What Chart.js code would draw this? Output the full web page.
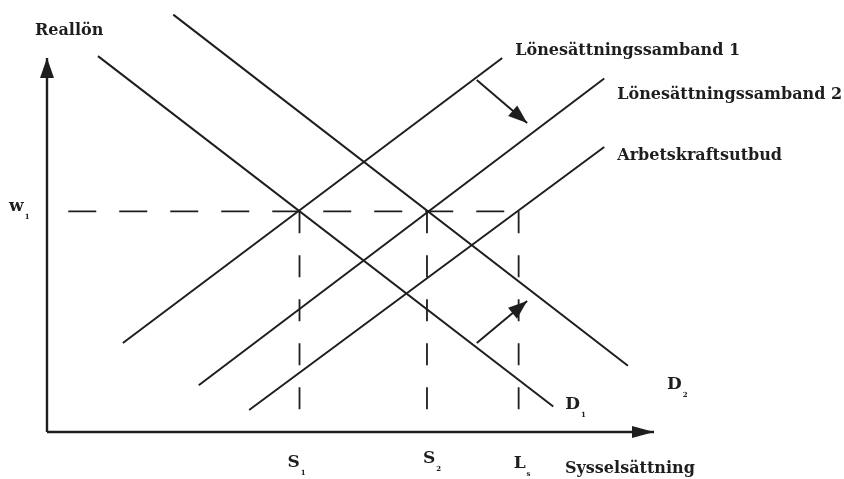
<!DOCTYPE html>
<html>
<head>
<meta charset="utf-8">
<script src="https://cdn.jsdelivr.net/npm/chart.js@4.4.1/dist/chart.umd.min.js"></script>
<style>
    html, body { margin: 0; padding: 0; background: #fff; }
    #wrap { width: 844px; height: 479px; }
</style>
</head>
<body>
<div id="wrap"><canvas id="chart"></canvas></div>
<script>
// Reallön (y) mot sysselsättning (x), both axes run 0-100
const axisMax = 100;
const w1 = 59;
const empTicks = [41.6, 62.6, 77.7];              // S1, S2, Ls
const empLabels = [['S', '1'], ['S', '2'], ['L', 's']];
const wageLabel = ['w', '1'];

const demand1 = [{ x: 8.4, y: 100.5 }, { x: 83.4, y: 6.8 }];
const demand2 = [{ x: 20.8, y: 111.6 }, { x: 95.7, y: 17.7 }];
const wageSetting1 = [{ x: 12.5, y: 23.8 }, { x: 75, y: 100 }];
const wageSetting2 = [{ x: 25, y: 12.5 }, { x: 91.8, y: 94.5 }];
const laborSupply = [{ x: 33.3, y: 5.9 }, { x: 91.8, y: 76.2 }];
const shiftDown = [{ x: 70.8, y: 94.1 }, { x: 79.1, y: 82.6 }];
const shiftUp = [{ x: 70.8, y: 23.8 }, { x: 79.1, y: 35.0 }];
const wageDashStart = 3.5;
const empDashEnd = 5.1;

const ink = '#1e1e1e';
const serif = '"DejaVu Serif", serif';

function solid(data, width) {
    return { data, borderColor: ink, borderWidth: width || 2, showLine: true, pointRadius: 0, clip: false };
}
function dashed(data, dash) {
    return { data, borderColor: ink, borderWidth: 1.8, borderDash: dash, showLine: true, pointRadius: 0, clip: false };
}

const datasets = [
    Object.assign(solid([{ x: 0, y: 0 }, { x: 0, y: axisMax }], 2.4), { arrow: [20, 7] }),
    Object.assign(solid([{ x: 0, y: 0 }, { x: axisMax, y: 0 }], 2.4), { arrow: [22, 6] }),
    dashed([{ x: wageDashStart, y: w1 }, { x: empTicks[2], y: w1 }], [28, 23]),
    ...empTicks.map(t => dashed([{ x: t, y: w1 }, { x: t, y: empDashEnd }], [22, 22])),
    solid(demand1),
    solid(demand2),
    solid(wageSetting1),
    solid(wageSetting2),
    solid(laborSupply),
    Object.assign(solid(shiftDown), { arrow: [19, 7] }),
    Object.assign(solid(shiftUp), { arrow: [19, 7] })
];

const arrowHeads = {
    id: 'arrowHeads',
    afterDatasetsDraw(chart) {
        const ctx = chart.ctx;
        chart.data.datasets.forEach((ds, i) => {
            if (!ds.arrow) return;
            const pts = chart.getDatasetMeta(i).data;
            const a = pts[pts.length - 2], b = pts[pts.length - 1];
            const ang = Math.atan2(b.y - a.y, b.x - a.x);
            const [len, half] = ds.arrow;
            const c = Math.cos(ang), s = Math.sin(ang);
            ctx.save();
            ctx.fillStyle = ink;
            ctx.beginPath();
            ctx.moveTo(b.x, b.y);
            ctx.lineTo(b.x - len * c + half * s, b.y - len * s - half * c);
            ctx.lineTo(b.x - len * c - half * s, b.y - len * s + half * c);
            ctx.closePath();
            ctx.fill();
            ctx.restore();
        });
    }
};

function text(ctx, str, x, y, size) {
    ctx.font = `bold ${size}px ${serif}`;
    ctx.fillText(str, x, y);
    return ctx.measureText(str).width;
}

function subText(ctx, pair, x, y) {
    const w = text(ctx, pair[0], x, y, 17);
    text(ctx, pair[1], x + w + 1, y + 8, 7);
}

const textLabels = {
    id: 'textLabels',
    afterDraw(chart) {
        const { ctx, scales: { x, y } } = chart;
        const end = (data) => ({ x: x.getPixelForValue(data[1].x), y: y.getPixelForValue(data[1].y) });
        const x0 = x.getPixelForValue(0), y0 = y.getPixelForValue(0);
        ctx.save();
        ctx.fillStyle = ink;
        ctx.textBaseline = 'alphabetic';
        ctx.textAlign = 'left';

        text(ctx, 'Reallön', x0 - 12, y.getPixelForValue(axisMax) - 23, 16);
        text(ctx, 'Sysselsättning', x.getPixelForValue(axisMax) - 89, y0 + 41, 16);

        let p = end(wageSetting1);
        text(ctx, 'Lönesättningssamband 1', p.x + 13, p.y - 3, 16);
        p = end(wageSetting2);
        text(ctx, 'Lönesättningssamband 2', p.x + 13, p.y + 20, 16);
        p = end(laborSupply);
        text(ctx, 'Arbetskraftsutbud', p.x + 13, p.y + 13, 16);

        p = end(demand1);
        subText(ctx, ['D', '1'], p.x + 12, p.y + 2);
        p = end(demand2);
        subText(ctx, ['D', '2'], p.x + 39, p.y + 23);

        subText(ctx, wageLabel, x0 - 38, y.getPixelForValue(w1));
        const dx = [-12, -4, -5], dy = [35, 31, 36];
        empTicks.forEach((t, i) => {
            subText(ctx, empLabels[i], x.getPixelForValue(t) + dx[i], y0 + dy[i]);
        });
        ctx.restore();
    }
};

new Chart(document.getElementById('chart'), {
    type: 'scatter',
    data: { datasets },
    options: {
        responsive: true,
        maintainAspectRatio: false,
        animation: false,
        events: [],
        layout: { padding: { left: 47, right: 190, top: 58, bottom: 47 } },
        plugins: { legend: { display: false }, tooltip: { enabled: false } },
        scales: {
            x: { type: 'linear', min: 0, max: axisMax, display: false },
            y: { type: 'linear', min: 0, max: axisMax, display: false }
        }
    },
    plugins: [arrowHeads, textLabels]
});
</script>
</body>
</html>
